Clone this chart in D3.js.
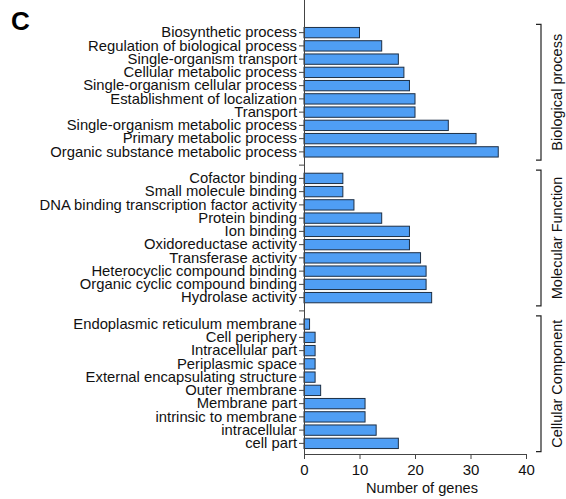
<!DOCTYPE html>
<meta charset="utf-8">
<script src="https://d3js.org/d3.v7.min.js"></script>
<style>
  body { margin: 0; background: #fff; }
  text { font-family: "Liberation Sans", Arial, sans-serif; }
</style>
<div id="chart"></div>
<script>
  // GO categories, top to bottom, with gene counts
  var bioTerms = ["Biosynthetic process", "Regulation of biological process", "Single-organism transport",
    "Cellular metabolic process", "Single-organism cellular process", "Establishment of localization",
    "Transport", "Single-organism metabolic process", "Primary metabolic process",
    "Organic substance metabolic process"];
  var bioCounts = [10, 14, 17, 18, 19, 20, 20, 26, 31, 35];

  var molTerms = ["Cofactor binding", "Small molecule binding", "DNA binding transcription factor activity",
    "Protein binding", "Ion binding", "Oxidoreductase activity", "Transferase activity",
    "Heterocyclic compound binding", "Organic cyclic compound binding", "Hydrolase activity"];
  var molCounts = [7, 7, 9, 14, 19, 19, 21, 22, 22, 23];

  var cellTerms = ["Endoplasmic reticulum membrane", "Cell periphery", "Intracellular part",
    "Periplasmic space", "External encapsulating structure", "Outer membrane", "Membrane part",
    "intrinsic to membrane", "intracellular", "cell part"];
  var cellCounts = [1, 2, 2, 2, 2, 3, 11, 11, 13, 17];

  var groupNames = ["Biological process", "Molecular Function", "Cellular Component"];
  var xTicks = [0, 10, 20, 30, 40];

  // build the row list, with an empty slot between groups
  var groups = [[bioTerms, bioCounts], [molTerms, molCounts], [cellTerms, cellCounts]];
  var rows = [];
  groups.forEach(function(g, gi) {
    g[0].forEach(function(t, i) {
      rows.push({key: "r" + rows.length, label: t, value: g[1][i], group: gi});
    });
    if (gi < groups.length - 1) rows.push({key: "r" + rows.length, label: "", value: null, group: gi});
  });

  var W = 566, H = 499;
  var svg = d3.select("#chart").append("svg")
    .attr("width", W).attr("height", H);

  var x = d3.scaleLinear().domain([0, 40]).range([304, 526]);
  var y = d3.scaleBand()
    .domain(rows.map(function(d) { return d.key; }))
    .range([26, 450])
    .paddingInner(0.22).paddingOuter(0.11);

  var labelOf = {};
  rows.forEach(function(d) { labelOf[d.key] = d.label; });

  // bars
  svg.selectAll("rect.bar")
    .data(rows.filter(function(d) { return d.value !== null; }))
    .enter().append("rect")
      .attr("class", "bar")
      .attr("x", x(0))
      .attr("y", function(d) { return y(d.key); })
      .attr("width", function(d) { return x(d.value) - x(0); })
      .attr("height", y.bandwidth())
      .style("fill", "#4f9ef4")
      .style("stroke", "#1d2f45")
      .style("stroke-width", 1);

  // y axis
  var yAxis = svg.append("g")
    .attr("transform", "translate(" + x(0) + ",0)")
    .call(d3.axisLeft(y).tickSize(5).tickPadding(2).tickSizeOuter(0)
      .tickFormat(function(k) { return labelOf[k]; }));
  yAxis.select(".domain").attr("d", "M0.5,0V454.5");
  yAxis.selectAll("text").style("font-size", "14.8px").style("fill", "#111");
  yAxis.selectAll("line").style("stroke", "#444");
  yAxis.select(".domain").style("stroke", "#444");

  // x axis
  var xAxis = svg.append("g")
    .attr("transform", "translate(0,454)")
    .call(d3.axisBottom(x).tickValues(xTicks).tickSize(5).tickPadding(5).tickSizeOuter(0));
  xAxis.selectAll("text").style("font-size", "15px").style("fill", "#111");
  xAxis.selectAll("line, .domain").style("stroke", "#444");

  svg.append("text")
    .attr("x", x(20) + 7).attr("y", 493)
    .attr("text-anchor", "middle")
    .style("font-size", "14.6px").style("fill", "#111")
    .text("Number of genes");

  // group brackets on the right
  groupNames.forEach(function(name, gi) {
    var keys = rows.filter(function(d) { return d.group === gi && d.value !== null; })
      .map(function(d) { return d.key; });
    var y0 = y(keys[0]) - 3;
    var y1 = y(keys[keys.length - 1]) + y.bandwidth() + 3;
    svg.append("path")
      .attr("d", "M536," + y0 + "H541V" + y1 + "H536")
      .style("fill", "none").style("stroke", "#222").style("stroke-width", 1.2);
    svg.append("text")
      .attr("transform", "translate(562," + ((y0 + y1) / 2) + ") rotate(-90)")
      .attr("text-anchor", "middle")
      .style("font-size", "14.5px").style("fill", "#111")
      .text(name);
  });

  // panel letter
  svg.append("text")
    .attr("x", 11).attr("y", 30)
    .style("font-size", "26px").style("font-weight", "bold")
    .text("C");
</script>
